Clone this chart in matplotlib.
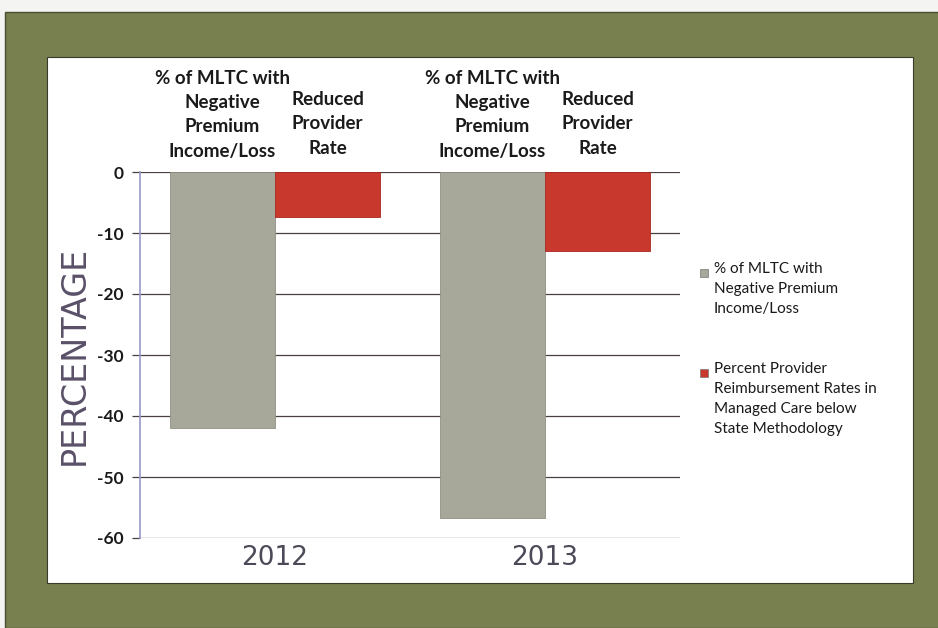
import matplotlib.pyplot as plt
from matplotlib.patches import Rectangle
import numpy as np

# data
years = ["2012", "2013"]
negative_premium = [-42, -56.8]
reduced_rate = [-7.4, -12.9]
series_labels = ["% of MLTC with\nNegative Premium\nIncome/Loss",
                 "Percent Provider\nReimbursement Rates in\nManaged Care below\nState Methodology"]
top_labels = ["% of MLTC with\nNegative\nPremium\nIncome/Loss", "Reduced\nProvider\nRate"]

gray = "#a8a89a"
red = "#c8382c"
olive = "#78804f"
W, H = 938, 628

plt.rcParams['font.family'] = ['Lato', 'DejaVu Sans']
plt.rcParams['axes.unicode_minus'] = False

fig = plt.figure(figsize=(W / 100, H / 100), dpi=100)
fig.patch.set_facecolor("#f4f4f2")

# olive frame + white panel
fig.patches.append(Rectangle((5 / W, 0), 1, (H - 12) / H, transform=fig.transFigure,
                             facecolor=olive, edgecolor="#4a4e30", lw=1, zorder=-3))
fig.patches.append(Rectangle((47 / W, (H - 583) / H), (913 - 47) / W, (583 - 57) / H,
                             transform=fig.transFigure, facecolor="white",
                             edgecolor="#3a3a2a", lw=0.8, zorder=-2))

ax = fig.add_axes([140 / W, (H - 538) / H, (680 - 140) / W, (538 - 172) / H])
ax.set_facecolor("none")

x = np.arange(len(years))
w = 0.39
ax.bar(x - w / 2, negative_premium, w, color=gray, edgecolor="#8f8f82", lw=0.6, zorder=3)
ax.bar(x + w / 2, reduced_rate, w, color=red, edgecolor="#a82820", lw=0.6, zorder=3)

ax.set_xlim(-0.5, 1.5)
ax.set_ylim(-60, 0)
ax.set_yticks(range(-60, 1, 10))
ax.yaxis.grid(True, color="#4a4040", lw=0.9, zorder=0)
ax.set_axisbelow(True)
for s in ["top", "right", "bottom"]:
    ax.spines[s].set_visible(False)
ax.spines["left"].set_color("#9a9ac8")
ax.spines["left"].set_linewidth(1.2)
ax.tick_params(axis="y", length=6, color="#4a4040", width=0.9, pad=6,
               labelsize=12.5, labelcolor="#1a1a1a")
for t in ax.get_yticklabels():
    t.set_fontweight("bold")
ax.set_xticks(x)
ax.set_xticklabels(years, fontsize=19, color="#4a4a58", family=["DejaVu Sans"])
ax.tick_params(axis="x", length=0, pad=5)

ax.set_ylabel("PERCENTAGE", fontsize=24, color="#5a5068", family=["DejaVu Sans"])
ax.yaxis.set_label_coords(-(140 - 91) / (680 - 140), 0.5)

# labels above bars
for i in range(len(years)):
    ax.annotate(top_labels[0], (x[i] - w / 2, 0), xytext=(0, 9), textcoords="offset points",
                ha="center", va="bottom", fontsize=13.5, fontweight="bold",
                color="#1a1a1a", linespacing=1.52, annotation_clip=False)
    ax.annotate(top_labels[1], (x[i] + w / 2, 0), xytext=(0, 11), textcoords="offset points",
                ha="center", va="bottom", fontsize=13.5, fontweight="bold",
                color="#1a1a1a", linespacing=1.52, annotation_clip=False)

# legend
leg_y = [272, 372]
for col, lab, yy in zip([gray, red], series_labels, leg_y):
    fig.patches.append(Rectangle((700 / W, (H - yy - 5) / H), 8 / W, 8 / H,
                                 transform=fig.transFigure, facecolor=col,
                                 edgecolor="#777777", lw=0.5))
    fig.text(714 / W, (H - yy + 10) / H, lab, ha="left", va="top", fontsize=11,
             color="#1a1a1a", linespacing=1.56)

fig.savefig("out.png", dpi=100, facecolor=fig.get_facecolor())
